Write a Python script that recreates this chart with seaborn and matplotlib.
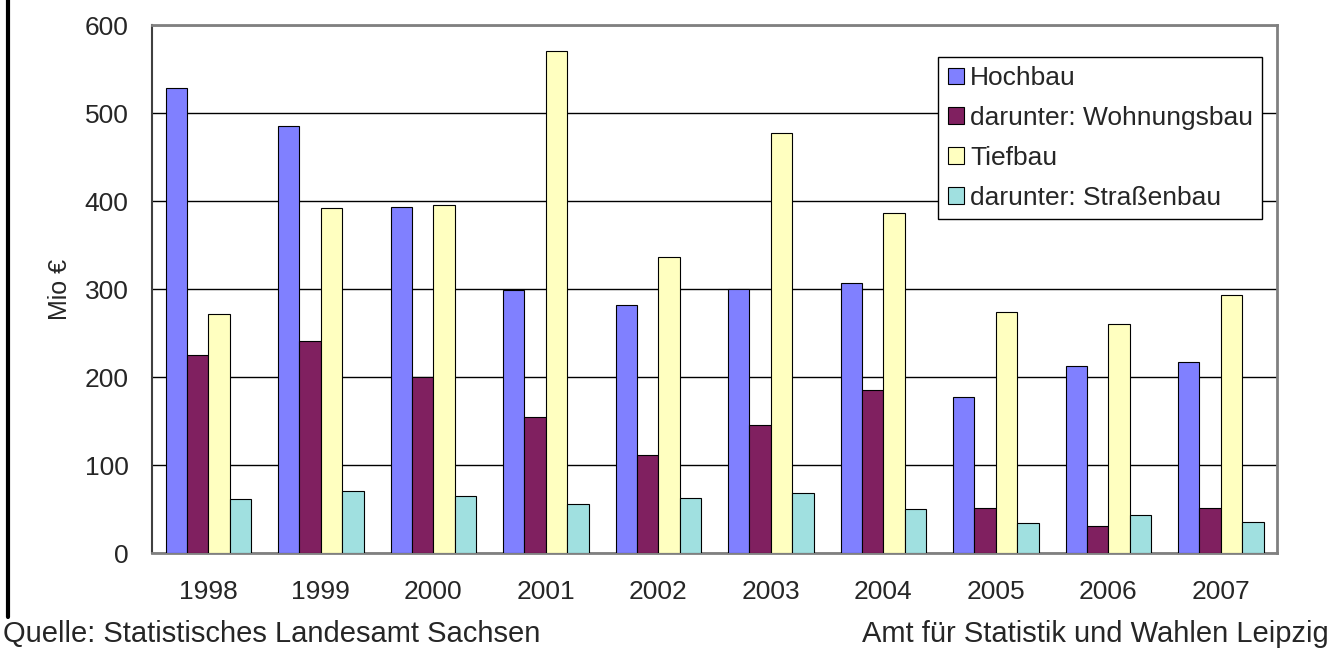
"""Bauinvestitionen Leipzig 1998-2007 - Balkendiagramm"""
import pandas as pd
import numpy as np
import seaborn as sns
import matplotlib.pyplot as plt
from matplotlib.lines import Line2D

# Daten (Mio €)
jahre = ['1998', '1999', '2000', '2001', '2002', '2003', '2004', '2005', '2006', '2007']
hochbau = [529, 485, 394, 299, 282, 300, 307, 178, 213, 217]
wohnungsbau = [225, 241, 200, 155, 112, 146, 186, 52, 31, 52]
tiefbau = [272, 392, 396, 571, 337, 478, 387, 274, 261, 294]
strassenbau = [62, 71, 65, 56, 63, 68, 50, 34, 43, 36]

serien = ['Hochbau', 'darunter: Wohnungsbau', 'Tiefbau', 'darunter: Straßenbau']
farben = ['#8080FF', '#802060', '#FFFFC0', '#A0E0E0']

df = pd.DataFrame({
    'Jahr': jahre * 4,
    'Wert': hochbau + wohnungsbau + tiefbau + strassenbau,
    'Art': [s for s in serien for _ in jahre],
})

sns.set_style('white')
plt.rcParams['font.family'] = ['Liberation Sans', 'DejaVu Sans']
plt.rcParams['font.size'] = 19

fig = plt.figure(figsize=(13.33, 6.51), dpi=100)
ax = fig.add_axes([152 / 1333, 1 - 553.3 / 651, (1277 - 152) / 1333, (553.3 - 25.3) / 651])

sns.barplot(data=df, x='Jahr', y='Wert', hue='Art', hue_order=serien,
            palette=farben, width=0.76, edgecolor='black', linewidth=0.8,
            saturation=1, ax=ax, zorder=3)

ax.set_ylim(0, 600)
ax.set_xlim(-0.5, len(jahre) - 0.5)
ax.set_yticks(np.arange(0, 601, 100))
ax.yaxis.grid(True, color='black', linewidth=1, zorder=0)
ax.set_axisbelow(True)

# Kategorie-Trennstriche unten
ax.set_xticks(np.arange(-0.5, len(jahre)), minor=True)
ax.tick_params(axis='x', which='major', length=0, pad=19, labelsize=19)
ax.tick_params(axis='x', which='minor', length=7, width=1, color='#404040', direction='out')
ax.tick_params(axis='y', length=7, width=1, color='#404040', direction='out', pad=10, labelsize=19)

for side in ['top', 'right', 'bottom']:
    ax.spines[side].set_color('#808080')
    ax.spines[side].set_linewidth(2)
ax.spines['left'].set_color('#404040')
ax.spines['left'].set_linewidth(1.5)

ax.set_xlabel('')
ax.set_ylabel('Mio €', fontsize=18)
ax.yaxis.set_label_coords((72 - 152) / 1125, 0.5)

ax.legend(loc='upper right', bbox_to_anchor=(0.987, 0.94), fontsize=19,
          frameon=True, fancybox=False, edgecolor='black', framealpha=1,
          borderpad=0.35, labelspacing=0.6, handlelength=0.6, handleheight=0.6,
          handletextpad=0.25, borderaxespad=0)
ax.get_legend().get_frame().set_linewidth(1)

# Rahmenlinie links und Fußzeilen
fig.add_artist(Line2D([0.006, 0.006], [1, 1 - 617 / 651], transform=fig.transFigure,
                      color='black', linewidth=3))
fig.text(3 / 1333, 1 - 634 / 651, 'Quelle: Statistisches Landesamt Sachsen',
         ha='left', va='center', fontsize=21)
fig.text(1329 / 1333, 1 - 634 / 651, 'Amt für Statistik und Wahlen Leipzig',
         ha='right', va='center', fontsize=21)

fig.savefig('out.png', dpi=100)
